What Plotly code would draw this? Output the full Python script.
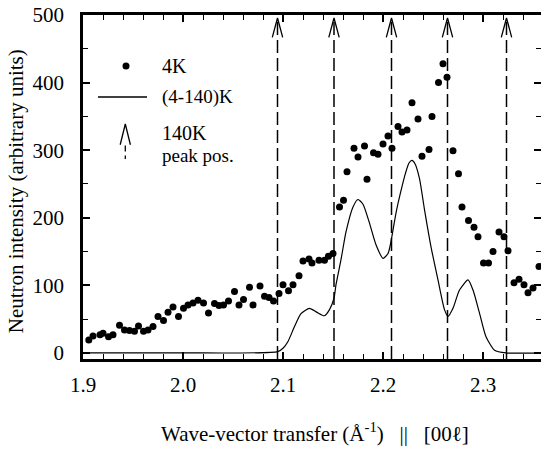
import plotly.graph_objects as go

# ---- data ----
q_4k = [1.9058, 1.910, 1.917, 1.920, 1.9255, 1.930, 1.9365, 1.9415, 1.9465, 1.9515,
        1.9555, 1.9605, 1.965, 1.970, 1.975, 1.9805, 1.985, 1.990, 1.9955, 2.0005,
        2.005, 2.010, 2.015, 2.0205, 2.0255, 2.0315, 2.036, 2.0405, 2.0455, 2.0515,
        2.056, 2.0605, 2.0665, 2.070, 2.077, 2.0815, 2.086, 2.0905, 2.096, 2.100,
        2.1055, 2.110, 2.116, 2.120, 2.126, 2.129, 2.136, 2.1415, 2.1455, 2.150,
        2.1565, 2.1605, 2.164, 2.171, 2.175, 2.1815, 2.184, 2.1905, 2.195, 2.200,
        2.205, 2.209, 2.215, 2.219, 2.224, 2.229, 2.235, 2.239, 2.246, 2.249,
        2.2555, 2.260, 2.264, 2.270, 2.2755, 2.279, 2.2855, 2.291, 2.295, 2.3005,
        2.3055, 2.310, 2.316, 2.321, 2.325, 2.331, 2.336, 2.341, 2.345, 2.350, 2.356]
i_4k = [19, 25, 27, 29, 24, 27, 41, 34, 33, 32,
        40, 32, 34, 39, 54, 48, 60, 68, 54, 66,
        71, 74, 78, 74, 59, 73, 70, 71, 77, 91,
        71, 79, 97, 71, 99, 84, 82, 77, 88, 101,
        92, 101, 114, 136, 139, 133, 137, 137, 143, 147,
        216, 226, 268, 303, 290, 306, 257, 296, 294, 309,
        321, 303, 335, 327, 330, 370, 346, 291, 301, 350,
        400, 428, 408, 299, 265, 216, 196, 186, 172, 133,
        133, 150, 179, 172, 151, 104, 109, 101, 89, 96, 128]

q_diff = [1.900, 2.000, 2.0948, 2.100, 2.105, 2.1115, 2.118, 2.1265, 2.134, 2.1415,
          2.1465, 2.151, 2.153, 2.158, 2.163, 2.170, 2.175, 2.180, 2.1865, 2.193,
          2.200, 2.205, 2.208, 2.213, 2.218, 2.2225, 2.226, 2.229, 2.232, 2.2365,
          2.2415, 2.248, 2.255, 2.2615, 2.265, 2.270, 2.2765, 2.285, 2.290, 2.2965,
          2.303, 2.3115, 2.323, 2.358]
i_diff = [0, 0, 2, 7, 17, 39, 58, 66, 60, 55,
          64, 81, 101, 138, 179, 216, 227, 220, 192, 160,
          140, 147, 165, 207, 240, 266, 281, 285, 280, 258,
          212, 157, 108, 64, 54, 66, 93, 108, 93, 59,
          24, 4, 0, 0]

peak_140k = [2.0945, 2.151, 2.2085, 2.2645, 2.3235]

x_ticks = [1.9, 2.0, 2.1, 2.2, 2.3]
y_ticks = [0, 100, 200, 300, 400, 500]

X_RANGE = [1.9, 2.358]
Y_RANGE = [-9, 500]

FONT = "Liberation Serif"
BLACK = "black"

fig = go.Figure()

# dashed 140K peak-position lines and their open arrowheads
dash_x, dash_y, head_x, head_y = [], [], [], []
for p in peak_140k:
    dash_x += [p, p, None]
    dash_y += [Y_RANGE[0], 494, None]
    head_x += [p - 0.0052, p, p + 0.0052, None]
    head_y += [467, 495.5, 467, None]
fig.add_trace(go.Scatter(x=dash_x, y=dash_y, mode="lines",
                         line=dict(color=BLACK, width=1.5, dash="13px,5px"),
                         hoverinfo="skip", showlegend=False))
fig.add_trace(go.Scatter(x=head_x, y=head_y, mode="lines",
                         line=dict(color=BLACK, width=1.3),
                         hoverinfo="skip", showlegend=False))

# difference curve
fig.add_trace(go.Scatter(x=q_diff, y=i_diff, mode="lines",
                         line=dict(color=BLACK, width=1.2, shape="spline", smoothing=0.6),
                         showlegend=False))
# 4K points
fig.add_trace(go.Scatter(x=q_4k, y=i_4k, mode="markers",
                         marker=dict(color=BLACK, size=7),
                         showlegend=False))

# right-side ticks (no visible axis line: the frame is cropped on the right)
fig.add_trace(go.Scatter(x=[X_RANGE[0]], y=[Y_RANGE[0]], yaxis="y2", mode="markers",
                         marker=dict(size=1, opacity=0), showlegend=False, hoverinfo="skip"))

# ---- hand-made legend ----
fig.add_trace(go.Scatter(x=[1.943], y=[424.5], mode="markers",
                         marker=dict(color=BLACK, size=7), showlegend=False, hoverinfo="skip"))
fig.add_trace(go.Scatter(x=[1.915, 1.964], y=[378.6, 378.6], mode="lines",
                         line=dict(color=BLACK, width=1.5), showlegend=False, hoverinfo="skip"))
fig.add_trace(go.Scatter(x=[1.9372, 1.9423, 1.9474], y=[308, 338.7, 308], mode="lines",
                         line=dict(color=BLACK, width=1.3), showlegend=False, hoverinfo="skip"))
fig.add_trace(go.Scatter(x=[1.9423, 1.9423], y=[307, 287], mode="lines",
                         line=dict(color=BLACK, width=1.3, dash="6px,4px"),
                         showlegend=False, hoverinfo="skip"))

legend_texts = [("4K", 425, 20), ("(4-140)K", 379, 19), ("140K", 325, 20), ("peak pos.", 292, 19)]
for txt, yy, fs in legend_texts:
    fig.add_annotation(x=1.977, y=yy, xref="x", yref="y", text=txt, showarrow=False,
                       xanchor="left", yanchor="middle",
                       font=dict(family=FONT, size=fs, color=BLACK))

# axis titles
fig.add_annotation(x=0.507, y=-0.215, xref="paper", yref="paper",
                   text="Wave-vector transfer (Å<sup>-1</sup>)   ||   [00ℓ]",
                   showarrow=False, xanchor="center", yanchor="middle",
                   font=dict(family=FONT, size=21, color=BLACK))
fig.add_annotation(x=-0.146, y=0.488, xref="paper", yref="paper",
                   text="Neutron intensity (arbitrary units)", textangle=-90,
                   showarrow=False, xanchor="center", yanchor="middle",
                   font=dict(family=FONT, size=21, color=BLACK))

fig.update_layout(
    width=541, height=453,
    margin=dict(l=83, r=0, t=15, b=94),
    paper_bgcolor="white", plot_bgcolor="white",
    font=dict(family=FONT, color=BLACK),
    xaxis=dict(range=X_RANGE, tickvals=x_ticks, ticktext=[f"{v:.1f}" for v in x_ticks],
               ticks="inside", ticklen=7, tickwidth=1.5, tickcolor=BLACK,
               minor=dict(dtick=0.02, tick0=1.9, ticks="inside", ticklen=5, tickwidth=1.2,
                          tickcolor=BLACK),
               showline=True, linewidth=2.5, linecolor=BLACK, mirror="ticks",
               showgrid=False, zeroline=False,
               tickfont=dict(family=FONT, size=21, color=BLACK), ticklabelstandoff=5),
    yaxis=dict(range=Y_RANGE, tickvals=y_ticks,
               ticks="inside", ticklen=7, tickwidth=1.5, tickcolor=BLACK,
               minor=dict(dtick=50, tick0=0, ticks="inside", ticklen=5, tickwidth=1.2,
                          tickcolor=BLACK),
               showline=True, linewidth=2.5, linecolor=BLACK, mirror=False,
               showgrid=False, zeroline=False,
               tickfont=dict(family=FONT, size=21, color=BLACK), ticklabelstandoff=12),
    yaxis2=dict(range=Y_RANGE, overlaying="y", side="right", anchor="x",
                tickvals=y_ticks, showticklabels=False,
                ticks="inside", ticklen=7, tickwidth=1.5, tickcolor=BLACK,
                minor=dict(dtick=50, tick0=0, ticks="inside", ticklen=5, tickwidth=1.2,
                           tickcolor=BLACK),
                showline=False, showgrid=False, zeroline=False),
)

fig.write_html("out.html")
